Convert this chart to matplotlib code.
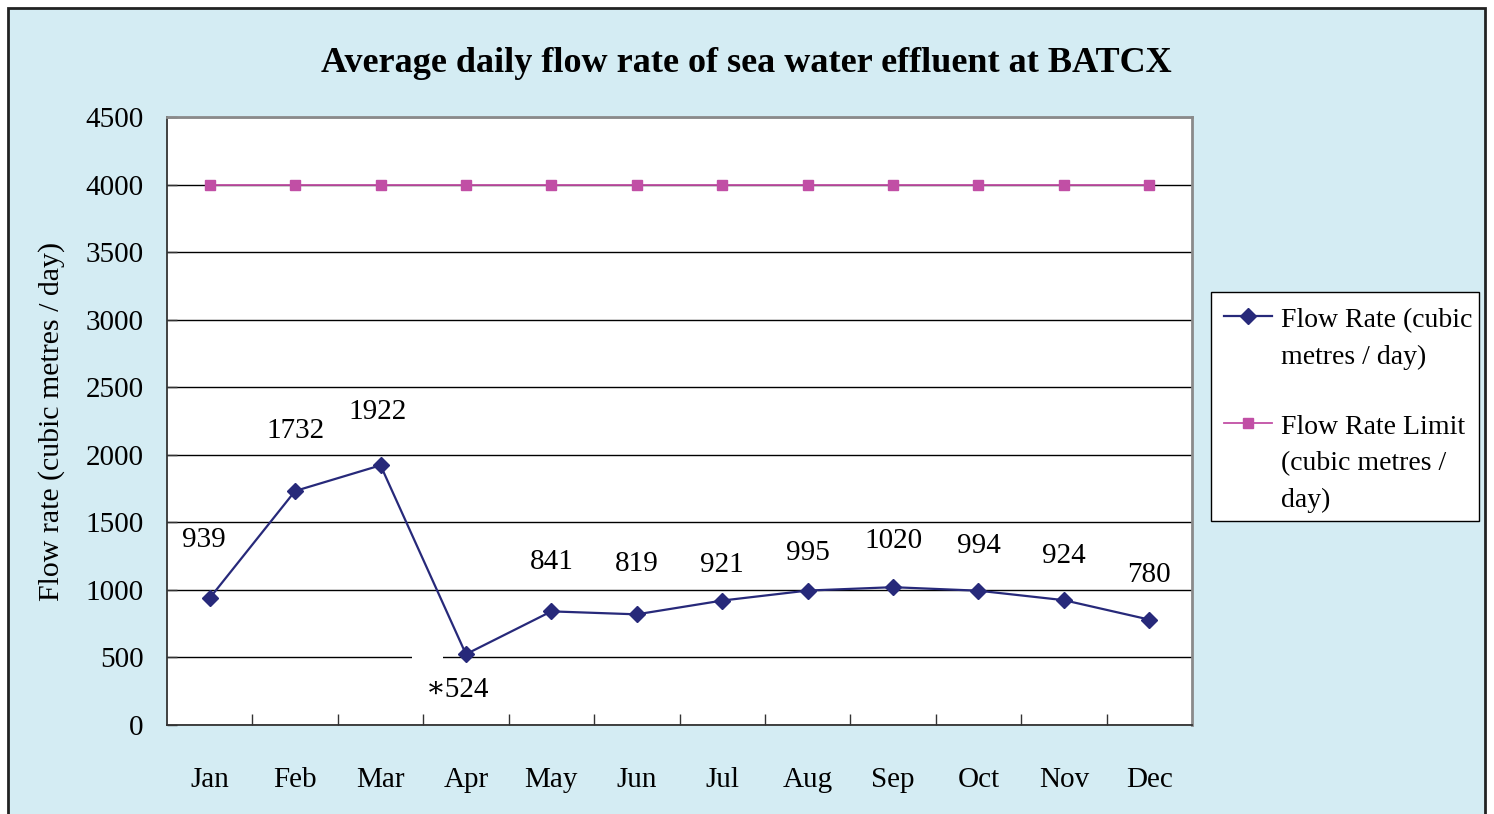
import matplotlib
matplotlib.use("Agg")
import matplotlib.pyplot as plt
from matplotlib.patches import Rectangle
from matplotlib.lines import Line2D

# data
months = ["Jan", "Feb", "Mar", "Apr", "May", "Jun", "Jul", "Aug", "Sep", "Oct", "Nov", "Dec"]
flow_rate = [939, 1732, 1922, 524, 841, 819, 921, 995, 1020, 994, 924, 780]
flow_limit = [4000] * 12
point_labels = ["939", "1732", "1922", "\u2217524", "841", "819", "921", "995", "1020", "994", "924", "780"]
y_ticks = [0, 500, 1000, 1500, 2000, 2500, 3000, 3500, 4000, 4500]
legend_labels = ["Flow Rate (cubic\nmetres / day)", "Flow Rate Limit\n(cubic metres /\nday)"]

# label offsets (pixels above / below each point)
label_dy = [58, 60, 53, -36, 49, 50, 36, 38, 46, 45, 44, 45]
label_dx = [-6, 0, -3, -8, 0, 0, 0, 0, 0, 0, 0, 0]

plt.rcParams['font.family'] = ['Liberation Serif', 'DejaVu Serif']

W, H = 1494, 814
fig = plt.figure(figsize=(W / 100, H / 100), dpi=100)
fig.patch.set_facecolor("white")

bg = "#d4ecf3"
navy = "#27297a"
magenta = "#c14fa5"

def fx(px):
    return px / W

def fy(py):
    return 1 - py / H

# outer chart area with border
fig.add_artist(Rectangle((fx(8), -0.02), fx(1485 - 8), 1.02 - 8 / H,
                         transform=fig.transFigure, facecolor=bg,
                         edgecolor="#222222", linewidth=2, zorder=-5))

ax = fig.add_axes([fx(167), fy(725), fx(1192 - 167), (725 - 117) / H])
ax.set_facecolor("white")

x = list(range(len(months)))
ax.plot(x, flow_limit, color=magenta, lw=1.3, marker="s", markersize=7.5,
        zorder=3, clip_on=False)
ax.plot(x, flow_rate, color=navy, lw=1.6, marker="D", markersize=8.5,
        zorder=4, clip_on=False)

# small gap in the 500 gridline near the Apr label
ax.add_patch(Rectangle((3 - 0.63, 460), 0.36, 80, facecolor="white",
                       edgecolor="none", zorder=2))

for i in x:
    ax.annotate(point_labels[i], (i, flow_rate[i]), xytext=(label_dx[i], label_dy[i]),
                textcoords="offset pixels", ha="center", va="center",
                fontsize=21, color="black", zorder=5)

ax.set_xlim(-0.5, 11.5)
ax.set_ylim(0, 4500)
ax.set_yticks(y_ticks)
ax.set_yticklabels([str(v) for v in y_ticks])
ax.tick_params(axis="y", direction="in", length=7, width=1, color="#333333",
               labelsize=21, pad=17)

ax.set_xticks(x)
ax.set_xticklabels(months)
ax.tick_params(axis="x", which="major", length=0, labelsize=21, pad=30)
ax.set_xticks([i + 0.5 for i in range(11)], minor=True)
ax.tick_params(axis="x", which="minor", direction="in", length=8, width=1, color="#333333")

ax.yaxis.grid(True, color="black", linewidth=1)
ax.set_axisbelow(True)

for s in ["left", "bottom"]:
    ax.spines[s].set_color("#333333")
    ax.spines[s].set_linewidth(1.3)
for s in ["top", "right"]:
    ax.spines[s].set_color("#8a8a8a")
    ax.spines[s].set_linewidth(2)

fig.text(fx(746), fy(64), "Average daily flow rate of sea water effluent at BATCX",
         ha="center", va="center", fontsize=26, fontweight="bold")
fig.text(fx(52), fy(421), "Flow rate (cubic metres / day)", rotation=90,
         ha="center", va="center", fontsize=21.5)

# legend box, drawn by hand so the keys sit on the first text line
fig.add_artist(Rectangle((fx(1211), fy(521)), fx(1479 - 1211), (521 - 292) / H,
                         transform=fig.transFigure, facecolor="white",
                         edgecolor="black", linewidth=1, zorder=1))
key_styles = [dict(color=navy, lw=1.6, marker="D", markersize=8.5),
              dict(color=magenta, lw=1.3, marker="s", markersize=7.5)]
key_rows = [316, 423]
for lab, style, row in zip(legend_labels, key_styles, key_rows):
    fig.add_artist(Line2D([fx(1224), fx(1272)], [fy(row), fy(row)],
                          transform=fig.transFigure, zorder=2,
                          color=style["color"], lw=style["lw"]))
    fig.add_artist(Line2D([fx(1248)], [fy(row)], transform=fig.transFigure,
                          zorder=3, linestyle="none", marker=style["marker"],
                          markersize=style["markersize"], color=style["color"]))
    fig.text(fx(1281), fy(row - 8), lab, ha="left", va="top", fontsize=20,
             linespacing=1.6, zorder=3)

fig.savefig("out.png", dpi=100, facecolor=fig.get_facecolor())
